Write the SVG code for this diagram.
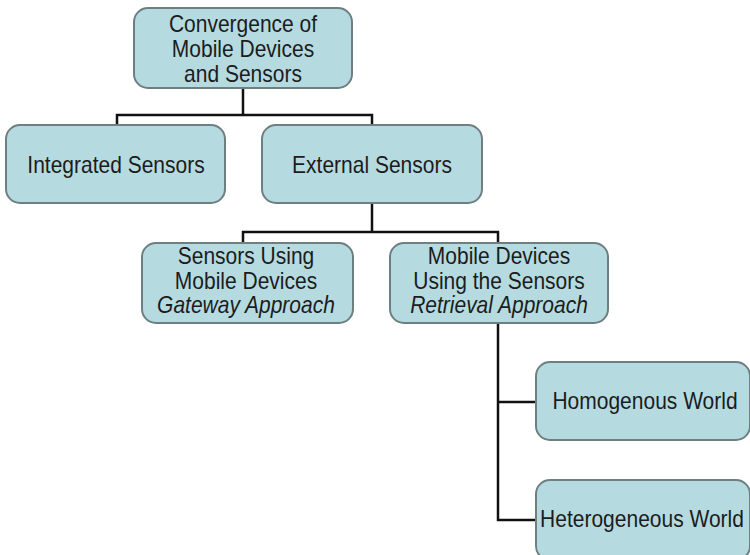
<svg xmlns="http://www.w3.org/2000/svg" width="750" height="555" viewBox="0 0 750 555">
<style>
.box{fill:#b5dbe1;stroke:#6e7f82;stroke-width:2}
.t{font-family:"Liberation Sans",Arial,sans-serif;font-size:23px;fill:#1c1c1c;text-anchor:middle}
.i{font-style:italic}
.c{fill:none;stroke:#111;stroke-width:2.5}
</style>
<rect width="750" height="555" fill="#fff"/>
<g id="connectors">
<path class="c" d="M243,88 V115 M117,125 V115 H372 V125"/>
<path class="c" d="M372,203 V232 M243,243 V232 H498 V243"/>
<path class="c" d="M498,323 V520 H536 M498,402 H536"/>
</g>
<g id="n1">
<rect class="box" x="134" y="8" width="218" height="80" rx="14"/>
<text class="t" transform="matrix(0.913,0,0,1,243,0)" y="32">Convergence of</text>
<text class="t" transform="matrix(0.913,0,0,1,243,0)" y="57">Mobile Devices</text>
<text class="t" transform="matrix(0.913,0,0,1,243,0)" y="82">and Sensors</text>
</g>
<g id="n2">
<rect class="box" x="6" y="125" width="219" height="78" rx="14"/>
<text class="t" transform="matrix(0.913,0,0,1,116,0)" y="173">Integrated Sensors</text>
</g>
<g id="n3">
<rect class="box" x="262" y="125" width="220" height="78" rx="14"/>
<text class="t" transform="matrix(0.913,0,0,1,372,0)" y="173">External Sensors</text>
</g>
<g id="n4">
<rect class="box" x="142" y="243" width="211" height="80" rx="14"/>
<text class="t" transform="matrix(0.913,0,0,1,246,0)" y="264">Sensors Using</text>
<text class="t" transform="matrix(0.913,0,0,1,246,0)" y="289">Mobile Devices</text>
<text class="t i" transform="matrix(0.913,0,0,1,246,0)" y="313">Gateway Approach</text>
</g>
<g id="n5">
<rect class="box" x="390" y="243" width="218" height="80" rx="14"/>
<text class="t" transform="matrix(0.913,0,0,1,499,0)" y="264">Mobile Devices</text>
<text class="t" transform="matrix(0.913,0,0,1,499,0)" y="289">Using the Sensors</text>
<text class="t i" transform="matrix(0.913,0,0,1,499,0)" y="313">Retrieval Approach</text>
</g>
<g id="n6">
<rect class="box" x="536" y="362" width="214" height="78" rx="14"/>
<text class="t" transform="matrix(0.913,0,0,1,645,0)" y="409">Homogenous World</text>
</g>
<g id="n7">
<rect class="box" x="536" y="480" width="214" height="80" rx="14"/>
<text class="t" transform="matrix(0.913,0,0,1,642,0)" y="527">Heterogeneous World</text>
</g>
</svg>
